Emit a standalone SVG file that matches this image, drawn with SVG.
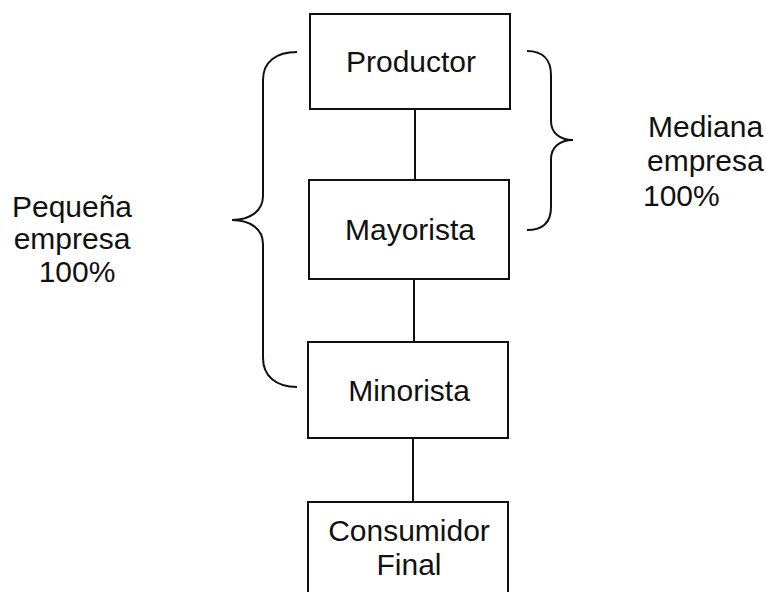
<svg xmlns="http://www.w3.org/2000/svg" width="766" height="592" viewBox="0 0 766 592">
<style>
.box{fill:#fff;stroke:#111;stroke-width:2}
.ln{fill:none;stroke:#111;stroke-width:2}
text{font-family:"Liberation Sans",Arial,sans-serif;font-size:30px;fill:#111}
.c{text-anchor:middle}
</style>
<rect width="766" height="592" fill="#fff"/>
<g id="connectors">
<line class="ln" x1="415" y1="109" x2="415" y2="180"/>
<line class="ln" x1="414" y1="279" x2="414" y2="342"/>
<line class="ln" x1="413" y1="438" x2="413" y2="502"/>
<path id="brace-left" class="ln" d="M297,52 C276,52 263,62 263,80 L263,196 C263,211 250,220 232,220 C250,220 263,229 263,244 L263,358 C263,376 276,387 297,387"/>
<path id="brace-right" class="ln" d="M527,51 C543,51 551,60 551,75 L551,121 C551,133 560,140 573,140 C560,140 551,147 551,159 L551,207 C551,222 543,230 527,230"/>
</g>
<g id="productor"><rect class="box" x="310" y="14" width="200" height="95"/><text class="c" x="411" y="72">Productor</text></g>
<g id="mayorista"><rect class="box" x="309" y="180" width="200" height="99"/><text class="c" x="410" y="240">Mayorista</text></g>
<g id="minorista"><rect class="box" x="308" y="342" width="200" height="96"/><text class="c" x="409" y="401">Minorista</text></g>
<g id="consumidor"><rect class="box" x="308" y="502" width="200" height="100"/><text class="c" x="409" y="541">Consumidor</text><text class="c" x="409" y="575">Final</text></g>
<g id="pequena"><text class="c" x="72" y="217">Pequeña</text><text class="c" x="72" y="249">empresa</text><text class="c" x="77" y="282">100%</text></g>
<g id="mediana"><text x="648" y="137">Mediana</text><text x="647" y="171">empresa</text><text x="643" y="206">100%</text></g>
</svg>
